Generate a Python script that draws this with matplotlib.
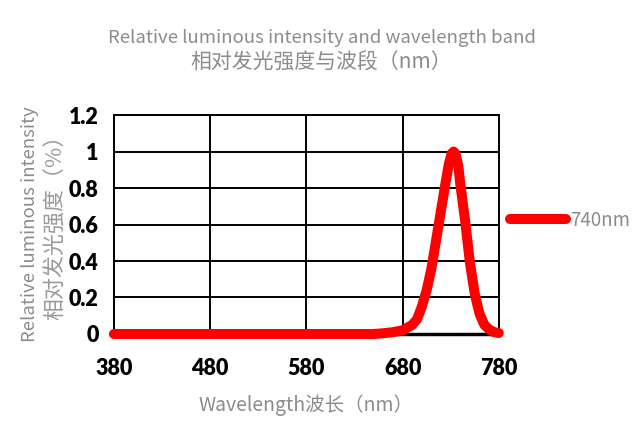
import matplotlib
matplotlib.use('Agg')
import matplotlib.pyplot as plt

plt.rcParams['font.family'] = ['Noto Sans CJK SC', 'DejaVu Sans']

# spectrum (nm, relative intensity)
wavelength = [380, 400, 450, 500, 550, 600, 650, 660, 670, 680, 690, 695, 700, 705,
              710, 715, 720, 725, 728, 731, 733, 735, 738, 740, 745, 750, 755, 760,
              765, 770, 775, 780]
intensity = [0, 0, 0, 0, 0, 0, 0, 0.004, 0.01, 0.02, 0.05, 0.08, 0.15, 0.24,
             0.36, 0.52, 0.68, 0.84, 0.93, 0.99, 1.0, 0.99, 0.92, 0.82, 0.62, 0.39, 0.22, 0.11,
             0.05, 0.025, 0.01, 0.005]
x_ticks = [380, 480, 580, 680, 780]
y_ticks = [0, 0.2, 0.4, 0.6, 0.8, 1, 1.2]
y_tick_labels = ['0', '0.2', '0.4', '0.6', '0.8', '1', '1.2']

gray = '#8c8c8c'

fig = plt.figure(figsize=(6.33, 4.36), dpi=100)
ax = fig.add_axes([0.180, 0.234, 0.608, 0.502])

ax.plot(wavelength, intensity, color='#ff0000', lw=7.2, solid_capstyle='round',
        label='740nm', zorder=3, clip_on=False)

ax.set_xlim(380, 780)
ax.set_ylim(0, 1.2)
ax.set_xticks(x_ticks)
ax.set_yticks(y_ticks)
ax.set_yticklabels(y_tick_labels)
ax.grid(True, color='black', lw=1.4)
ax.set_axisbelow(True)
for s in ax.spines.values():
    s.set_color('black')
    s.set_linewidth(1.4)
ax.spines['bottom'].set_linewidth(2.5)
ax.tick_params(length=0)
ax.tick_params(axis='x', pad=17)
ax.tick_params(axis='y', pad=11)
for lab in ax.get_xticklabels() + ax.get_yticklabels():
    lab.set_fontweight('heavy')
    lab.set_fontsize(15.5)
    lab.set_family(['Lato', 'DejaVu Sans'])

fig.text(0.509, 0.912, 'Relative luminous intensity and wavelength band',
         ha='center', va='center', color=gray, fontsize=13.4)
fig.text(0.507, 0.857, '相对发光强度与波段（nm）',
         ha='center', va='center', color=gray, fontsize=15)
fig.text(0.047, 0.487, 'Relative luminous intensity', rotation=90,
         ha='center', va='center', color=gray, fontsize=13.4)
fig.text(0.089, 0.490, '相对发光强度（%）', rotation=90,
         ha='center', va='center', color='#9a9a9a', fontsize=15.8)
fig.text(0.484, 0.071, 'Wavelength波长（nm）',
         ha='center', va='center', color=gray, fontsize=14)

leg = ax.legend(loc='center left', bbox_to_anchor=(0.985, 0.52), frameon=False,
                handlelength=3.0, handletextpad=0.2, fontsize=13.5)
for t in leg.get_texts():
    t.set_color(gray)

fig.savefig('out.png', dpi=100)
